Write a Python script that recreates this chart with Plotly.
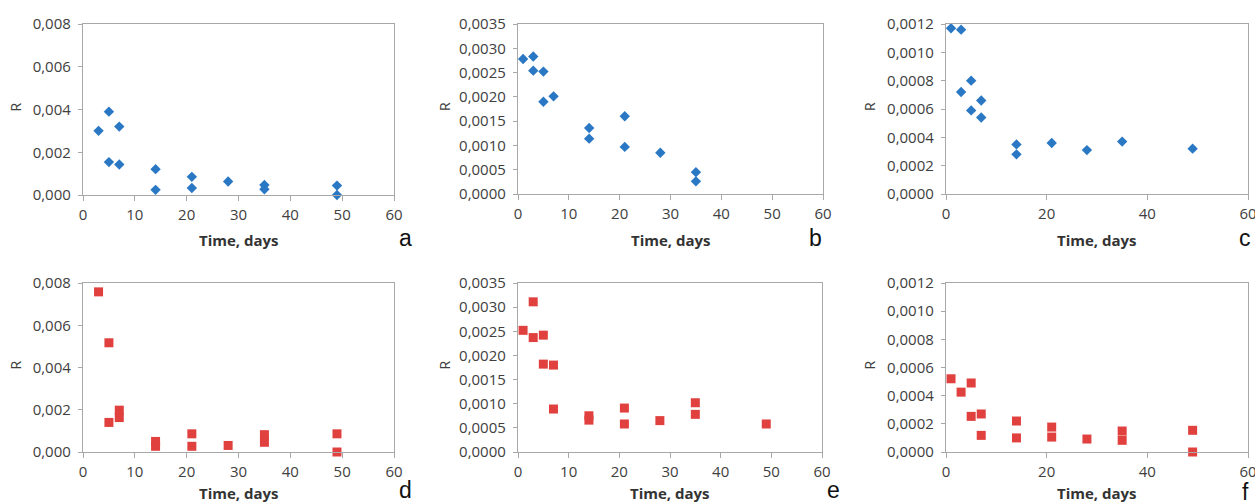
import plotly.graph_objects as go

# ---- data ----
time_a = [3, 5, 5, 7, 7, 14, 14, 21, 21, 28, 35, 35, 49, 49]
r_a = [0.0030, 0.0039, 0.00154, 0.0032, 0.00143, 0.00121, 0.00024, 0.00085,
       0.00033, 0.00063, 0.00047, 0.00027, 0.00044, 0.0]

time_b = [1, 3, 3, 5, 5, 7, 14, 14, 21, 21, 28, 35, 35]
r_b = [0.00278, 0.00283, 0.00254, 0.00252, 0.00190, 0.00201, 0.00136, 0.00114,
       0.00160, 0.00097, 0.00085, 0.00045, 0.00026]

time_c = [1, 3, 3, 5, 5, 7, 7, 14, 14, 21, 28, 35, 49]
r_c = [0.00117, 0.00116, 0.00072, 0.00080, 0.00059, 0.00066, 0.00054, 0.00035,
       0.00028, 0.00036, 0.00031, 0.00037, 0.00032]

time_d = [3, 5, 5, 7, 7, 14, 14, 21, 21, 28, 35, 35, 49, 49]
r_d = [0.00758, 0.00517, 0.0014, 0.00198, 0.00163, 0.0005, 0.00027, 0.00086,
       0.00027, 0.00031, 0.00082, 0.00046, 0.00086, 0.0]

time_e = [1, 3, 3, 5, 5, 7, 7, 14, 14, 21, 21, 28, 35, 35, 49]
r_e = [0.00252, 0.00311, 0.00237, 0.00242, 0.00182, 0.00180, 0.00089, 0.00075,
       0.00066, 0.00091, 0.00058, 0.00065, 0.00102, 0.00078, 0.00058]

time_f = [1, 3, 5, 5, 7, 7, 14, 14, 21, 21, 28, 35, 35, 49, 49]
r_f = [0.00052, 0.000425, 0.00049, 0.000253, 0.00027, 0.000118, 0.00022, 0.0001,
       0.000177, 0.000106, 0.000092, 0.000149, 0.000083, 0.000154, 0.0]

panel_letters = ["a", "b", "c", "d", "e", "f"]
y_ranges = [[0, 0.008], [0, 0.0035], [0, 0.0012], [0, 0.008], [0, 0.0035], [0, 0.0012]]
y_dticks = [0.002, 0.0005, 0.0002, 0.002, 0.0005, 0.0002]
y_formats = [".3f", ".4f", ".4f", ".3f", ".4f", ".4f"]
x_dticks = [10, 10, 20, 10, 10, 20]
x_title = "Time, days"
y_title = "R"

W, H = 1255, 504
BLUE = "#2a78c4"
RED = "#e0403e"
AXIS = "#a8a8a8"
TXT = "#404040"
FONT = "Open Sans"

# plot-area pixel boxes (left, right, top, bottom)
boxes = [(83, 394, 24, 195), (518, 823, 24, 194), (946, 1248, 24, 194),
         (83, 394, 283, 452), (518, 822, 283, 452), (946, 1248, 283, 452)]
r_pos = [15, 444, 869]
letter_pos = [(405, 238), (815, 238), (1245, 238), (405, 490), (833, 490), (1245, 492)]

series = [(time_a, r_a, "diamond", BLUE, 8), (time_b, r_b, "diamond", BLUE, 8),
          (time_c, r_c, "diamond", BLUE, 8), (time_d, r_d, "square", RED, 9),
          (time_e, r_e, "square", RED, 9), (time_f, r_f, "square", RED, 9)]

fig = go.Figure()
layout = {}
annotations = []
for i, ((xs, ys, sym, col, sz), (l, r, t, b)) in enumerate(zip(series, boxes)):
    n = "" if i == 0 else str(i + 1)
    fig.add_trace(go.Scatter(x=xs, y=ys, mode="markers", xaxis="x" + n, yaxis="y" + n,
                             marker=dict(symbol=sym, color=col, size=sz, line=dict(width=0)),
                             cliponaxis=False, showlegend=False))
    layout["xaxis" + n] = dict(domain=[l / W, r / W], anchor="y" + n, range=[0, 60],
                               dtick=x_dticks[i], tick0=0, showgrid=False, zeroline=False,
                               showline=True, linecolor=AXIS, linewidth=1.3, mirror=True,
                               ticks="outside", ticklen=5, tickcolor=AXIS, automargin=False,
                               ticklabelstandoff=1, ticklabeloverflow="allow",
                               tickfont=dict(family=FONT, size=15, color=TXT))
    layout["yaxis" + n] = dict(domain=[1 - b / H, 1 - t / H], anchor="x" + n, range=y_ranges[i],
                               dtick=y_dticks[i], tick0=0, tickformat=y_formats[i],
                               showgrid=False, zeroline=False, automargin=False,
                               showline=True, linecolor=AXIS, linewidth=1.3, mirror=True,
                               ticks="outside", ticklen=4, tickcolor=AXIS,
                               ticklabelstandoff=4, ticklabeloverflow="allow",
                               tickfont=dict(family=FONT, size=15, color=TXT))
    cx = (l + r) / 2
    annotations.append(dict(x=r_pos[i % 3] / W, y=1 - ((t + b) / 2 - 2) / H,
                            xref="paper", yref="paper", xanchor="center", yanchor="middle",
                            text=y_title, textangle=-90, showarrow=False,
                            font=dict(family=FONT, size=14, color=TXT)))
    ty = 240 if i < 3 else 493
    annotations.append(dict(x=cx / W, y=1 - ty / H, xref="paper", yref="paper",
                            xanchor="center", yanchor="middle",
                            text="<b>" + x_title + "</b>", showarrow=False,
                            font=dict(family=FONT, size=15, color="#333333")))
    lx, ly = letter_pos[i]
    annotations.append(dict(x=lx / W, y=1 - ly / H, xref="paper", yref="paper",
                            xanchor="center", yanchor="middle",
                            text=panel_letters[i], showarrow=False,
                            font=dict(family="Liberation Sans", size=23, color="#111111")))

fig.update_layout(width=W, height=H, margin=dict(l=0, r=0, t=0, b=0, autoexpand=False),
                  paper_bgcolor="white", plot_bgcolor="white", separators=", ",
                  annotations=annotations, **layout)
fig.write_html("out.html", config={"displayModeBar": False},
               post_script="document.body.style.margin='0';")
